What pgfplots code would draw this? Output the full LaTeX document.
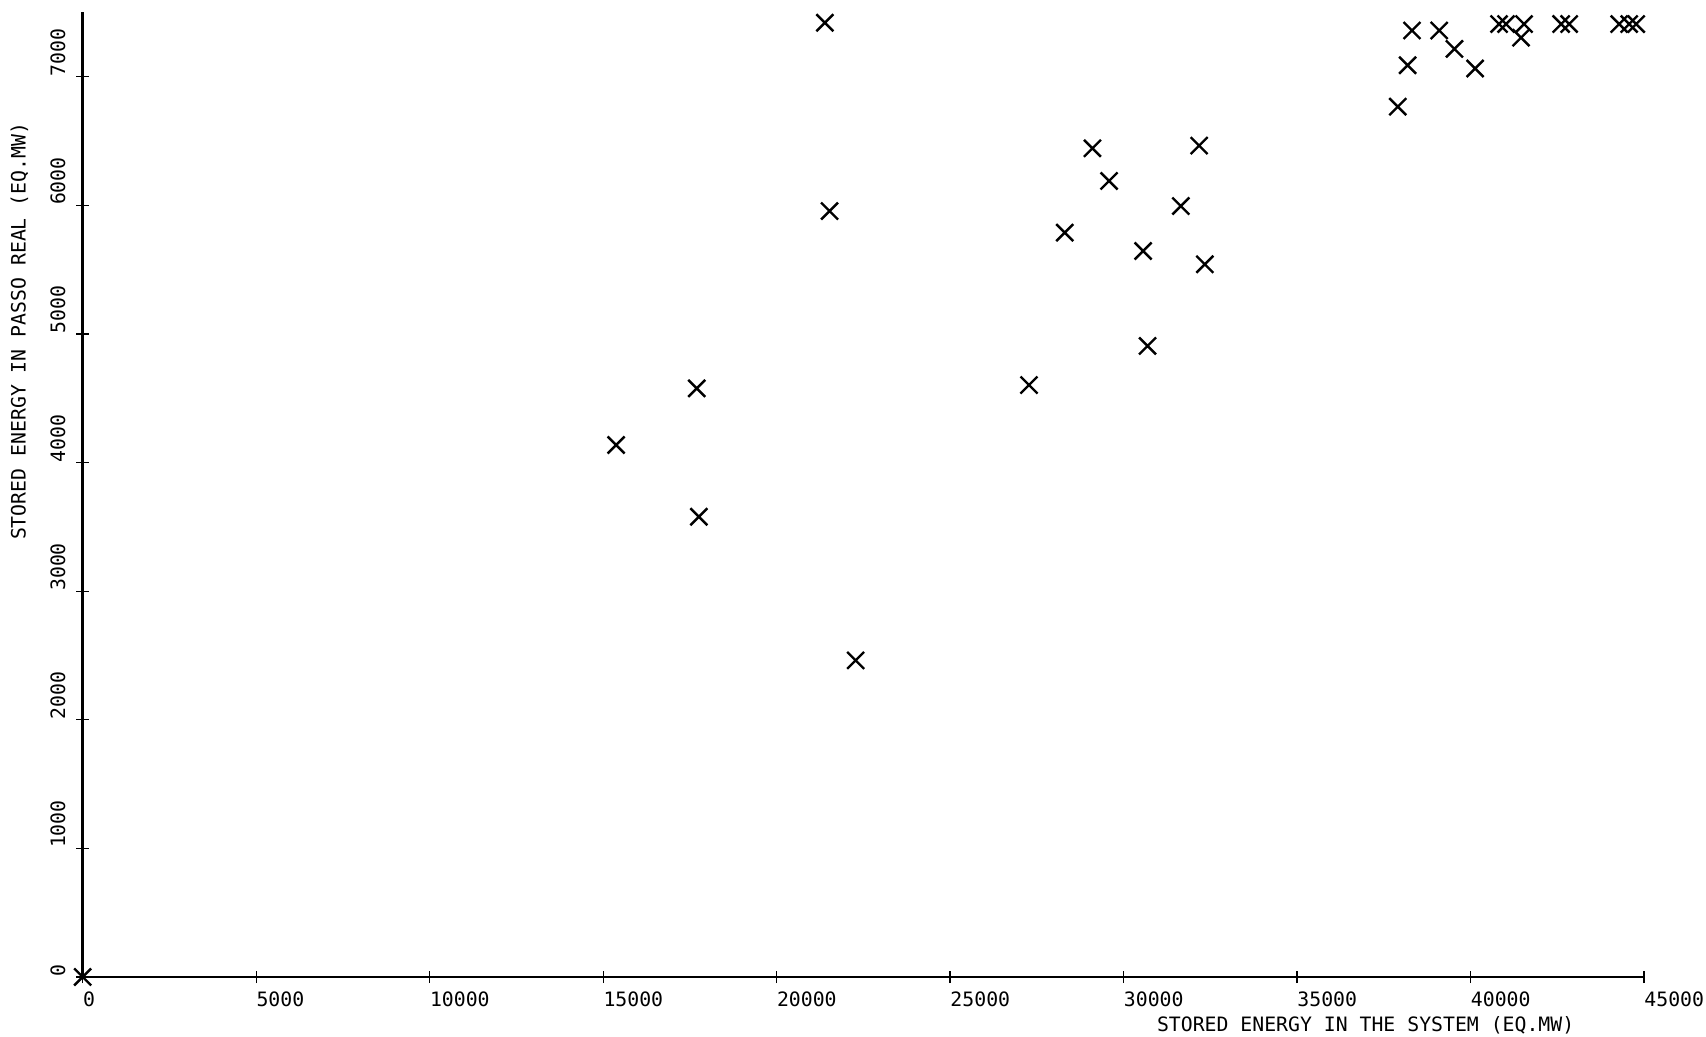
\documentclass[border=0pt]{standalone}
\usepackage{fontspec}
\setmainfont{DejaVu Sans Mono}
\usepackage{pgfplots}
\pgfplotsset{compat=1.18}
\newcommand{\pf}{\fontsize{9.9}{11}\selectfont}
\begin{document}
\begin{tikzpicture}
\useasboundingbox (-41.35pt,-30pt) rectangle (811.65pt,488.5pt);
\begin{axis}[
  at={(0pt,0pt)}, anchor=south west,
  scale only axis, width=780.65pt, height=482.25pt,
  xmin=0, xmax=45000, ymin=0, ymax=7500,
  axis lines=left, axis line style={-, line width=1.4pt},
  xtick={0,5000,...,45000}, ytick={0,1000,...,7000},
  scaled x ticks=false, scaled y ticks=false,
  /pgf/number format/assume math mode=true,
  /pgf/number format/1000 sep={},
  xticklabel style={font=\pf, anchor=north west, inner sep=0pt},
  xticklabel shift=4.2pt,
  yticklabel style={font=\pf, rotate=90, anchor=south west, inner sep=0pt},
  yticklabel shift=5.3pt,
  tick align=center, major tick length=6.2pt, tick style={line width=0.6pt, black},
  xlabel={STORED ENERGY IN THE SYSTEM (EQ.MW)},
  xlabel style={at={(axis description cs:0.8217,-0.0498)}, anchor=center, font=\pf},
  ylabel={STORED ENERGY IN PASSO REAL (EQ.MW)},
  ylabel style={at={(axis description cs:-0.0405,0.4458)}, anchor=west, font=\pf},
  clip=false,
]
\addplot[only marks, mark=x, mark size=6pt, mark options={line width=1.2pt, black}] coordinates {
(0,0)
(15375,4137)
(17697,4577)
(17760,3579)
(21390,7420)
(21525,5956)
(22278,2462)
(27274,4603)
(28304,5788)
(29102,6444)
(29582,6190)
(30563,5645)
(30690,4907)
(31650,5995)
(32178,6465)
(32342,5542)
(37904,6768)
(38187,7090)
(38312,7360)
(39097,7360)
(39536,7217)
(40132,7064)
(40822,7410)
(41024,7410)
(41542,7410)
(41456,7304)
(42611,7410)
(42842,7410)
(44284,7410)
(44573,7410)
(44775,7410)
};
\end{axis}
\end{tikzpicture}
\end{document}
